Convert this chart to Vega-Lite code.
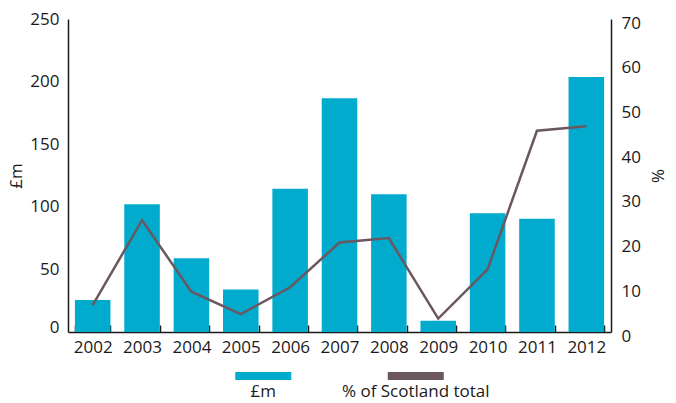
{
  "$schema": "https://vega.github.io/schema/vega-lite/v6.json",
  "padding": {"left": 7, "top": 10, "right": 0, "bottom": 0},
  "spacing": 17,
  "config": {
    "font": "Open Sans",
    "view": {"stroke": null},
    "axis": {
      "labelFont": "Open Sans", "labelFontSize": 17, "labelColor": "#1a1a1a",
      "titleFont": "Open Sans", "titleFontSize": 17, "titleFontWeight": "normal", "titleColor": "#1a1a1a",
      "domainColor": "#1a1a1a", "domainWidth": 1.5, "grid": false
    }
  },
  "datasets": {
    "main": [
      {"year": "2002", "gbp": 25.6, "pct": 6},
      {"year": "2003", "gbp": 102, "pct": 25},
      {"year": "2004", "gbp": 59, "pct": 9},
      {"year": "2005", "gbp": 34, "pct": 4},
      {"year": "2006", "gbp": 114.5, "pct": 10},
      {"year": "2007", "gbp": 186.7, "pct": 20},
      {"year": "2008", "gbp": 110, "pct": 21},
      {"year": "2009", "gbp": 9, "pct": 3},
      {"year": "2010", "gbp": 94.8, "pct": 14},
      {"year": "2011", "gbp": 90.5, "pct": 45},
      {"year": "2012", "gbp": 203.7, "pct": 46}
    ],
    "legend": [{"series": "£m"}, {"series": "% of Scotland total"}]
  },
  "vconcat": [
    {
      "width": 543, "height": 313,
      "data": {"name": "main"},
      "encoding": {
        "x": {"field": "year", "type": "ordinal", "sort": null,
          "scale": {"paddingInner": 0.28, "paddingOuter": 0.14},
          "axis": {"title": null, "labelAngle": 0, "tickBand": "extent", "tickSize": -7, "tickColor": "#1a1a1a", "tickWidth": 1.5, "labelPadding": 14}}
      },
      "layer": [
        {
          "mark": {"type": "bar", "color": "#00abcd"},
          "encoding": {
            "y": {"field": "gbp", "type": "quantitative", "scale": {"domain": [0, 250]},
              "axis": {"title": "£m", "values": [0, 50, 100, 150, 200, 250], "ticks": false, "labelPadding": 9, "titlePadding": 4,
                "labelOffset": {"condition": {"test": "datum.value === 0", "value": -5}, "value": 0}}}
          }
        },
        {
          "mark": {"type": "line", "color": "#6b5760", "strokeWidth": 2.5},
          "encoding": {
            "y": {"field": "pct", "type": "quantitative", "scale": {"domain": [0, 70]},
              "axis": {"title": "%", "orient": "right", "values": [0, 10, 20, 30, 40, 50, 60, 70], "ticks": false, "labelPadding": 10, "titlePadding": 7, "labelOffset": 4}}
          }
        }
      ],
      "resolve": {"scale": {"y": "independent"}}
    },
    {
      "width": 543, "height": 8,
      "data": {"name": "legend"},
      "encoding": {
        "x": {"field": "series", "type": "nominal", "sort": null,
          "scale": {"type": "band", "paddingInner": 0, "paddingOuter": 0.78}, "axis": null}
      },
      "layer": [
        {
          "mark": {"type": "tick", "orient": "horizontal", "size": 56, "thickness": 8},
          "encoding": {
            "color": {"field": "series", "type": "nominal", "sort": null,
              "scale": {"domain": ["£m", "% of Scotland total"], "range": ["#00abcd", "#6b5760"]}, "legend": null},
            "opacity": {"value": 1}
          }
        },
        {
          "mark": {"type": "text", "baseline": "top", "dy": 8, "fontSize": 17, "color": "#1a1a1a", "font": "Open Sans"},
          "encoding": {"text": {"field": "series"}}
        }
      ]
    }
  ]
}
